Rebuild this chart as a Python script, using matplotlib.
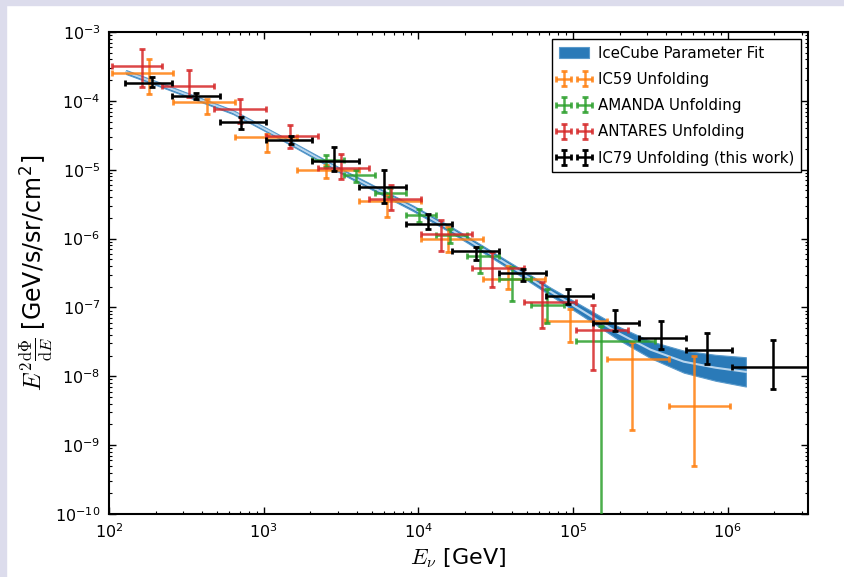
import matplotlib
matplotlib.use('Agg')
import matplotlib.pyplot as plt
import numpy as np
from matplotlib.patches import Rectangle
from matplotlib.ticker import NullFormatter

plt.rcParams['font.family'] = ['DejaVu Sans']
plt.rcParams['mathtext.fontset'] = 'cm'
plt.rcParams['mathtext.default'] = 'it'
plt.rcParams['axes.unicode_minus'] = False

# IceCube parameter fit band
fit_E = [129, 237, 635, 1280, 3470, 9280, 16110, 25180, 43750, 71450,
         116900, 194100, 317500, 518800, 835600, 1.309e6]
fit_F = [2.62e-4, 1.58e-4, 6.86e-5, 2.96e-5, 8.57e-6, 2.74e-6, 1.36e-6, 7.41e-7,
         3.43e-7, 1.70e-7, 8.69e-8, 4.30e-8, 2.43e-8, 1.63e-8, 1.33e-8, 1.16e-8]
fit_hi = [2.80e-4, 1.69e-4, 7.33e-5, 3.16e-5, 9.31e-6, 3.00e-6, 1.51e-6, 8.25e-7,
          3.86e-7, 1.94e-7, 1.03e-7, 5.35e-8, 3.23e-8, 2.36e-8, 2.05e-8, 1.89e-8]
fit_lo = [2.45e-4, 1.48e-4, 6.42e-5, 2.77e-5, 7.89e-6, 2.50e-6, 1.23e-6, 6.65e-7,
          3.05e-7, 1.49e-7, 7.35e-8, 3.45e-8, 1.83e-8, 1.13e-8, 8.6e-9, 7.1e-9]

# IC59 unfolding
ic59_E = [182, 429, 1050, 2530, 6270, 15490, 37840, 95300, 239300, 605000]
ic59_Elo = [104, 261, 656, 1648, 4140, 10400, 26120, 65610, 164800, 414000]
ic59_Ehi = [261, 656, 1648, 4140, 10400, 26120, 65610, 164800, 414000, 1.04e6]
ic59_F = [2.51e-4, 9.48e-5, 2.96e-5, 9.8e-6, 3.55e-6, 9.93e-7, 2.6e-7, 6.43e-8, 1.8e-8, 3.68e-9]
ic59_Fhi = [4.01e-4, 1.05e-4, 3.27e-5, 1.16e-5, 4.39e-6, 1.45e-6, 3.96e-7, 9.5e-8, 3.1e-8, 1.99e-8]
ic59_Flo = [1.24e-4, 6.4e-5, 1.81e-5, 7.67e-6, 2.05e-6, 6.34e-7, 1.86e-7, 3.1e-8, 1.66e-9, 4.98e-10]

# AMANDA unfolding (last lower bound runs off the bottom)
amanda_E = [2530, 3970, 6590, 10050, 15960, 25180, 40000, 68080, 150700]
amanda_Elo = [2051, 3289, 5272, 8356, 13090, 20650, 33110, 53090, 103700]
amanda_Ehi = [3289, 5272, 8356, 13090, 20650, 33110, 53090, 87100, 337300]
amanda_F = [1.37e-5, 8.28e-6, 4.65e-6, 2.22e-6, 1.11e-6, 5.55e-7, 2.6e-7, 1.09e-7, 3.29e-8]
amanda_Fhi = [1.66e-5, 9.8e-6, 5.36e-6, 2.72e-6, 1.39e-6, 7.67e-7, 3.84e-7, 1.86e-7, 5.31e-8]
amanda_Flo = [1.09e-5, 6.62e-6, 3.96e-6, 1.73e-6, 8.57e-7, 3.18e-7, 1.26e-7, 5.94e-8, 1e-12]

# ANTARES unfolding
antares_E = [164, 331, 705, 1469, 3140, 6680, 14030, 30130, 63240, 135200]
antares_Elo = [104, 221, 474, 1038, 2228, 4764, 10400, 22340, 47860, 104500]
antares_Ehi = [221, 474, 1038, 2228, 4764, 10400, 22340, 47860, 104500, 227500]
antares_F = [3.2e-4, 1.65e-4, 7.5e-5, 3.1e-5, 1.06e-5, 3.71e-6, 1.16e-6, 3.71e-7, 1.19e-7, 4.7e-8]
antares_Fhi = [5.66e-4, 2.8e-4, 1.08e-4, 4.39e-5, 1.67e-5, 5.93e-6, 1.83e-6, 6.34e-7, 2.32e-7, 1.09e-7]
antares_Flo = [1.57e-4, 1.12e-4, 4.69e-5, 2.05e-5, 7.41e-6, 2.62e-6, 6.49e-7, 1.96e-7, 4.97e-8, 1.24e-8]

# IC79 unfolding (this work)
ic79_E = [190, 366, 711, 1500, 2830, 5960, 11600, 23700, 47600, 93100,
          187000, 368000, 739000, 1.95e6]
ic79_Elo = [127, 256, 522, 1038, 2061, 4150, 8360, 16600, 33400, 66400,
            134000, 266000, 535000, 1.06e6]
ic79_Ehi = [256, 522, 1038, 2061, 4150, 8360, 16600, 33400, 66400, 134000,
            266000, 535000, 1.06e6, 3.44e6]
ic79_F = [1.81e-4, 1.17e-4, 4.94e-5, 2.74e-5, 1.34e-5, 5.6e-6, 1.64e-6, 6.56e-7,
          3.13e-7, 1.49e-7, 5.94e-8, 3.6e-8, 2.4e-8, 1.37e-8]
ic79_Fhi = [2.21e-4, 1.28e-4, 5.85e-5, 3.10e-5, 2.14e-5, 1.00e-5, 2.30e-6, 7.67e-7,
            3.63e-7, 1.86e-7, 9.2e-8, 6.43e-8, 4.26e-8, 3.37e-8]
ic79_Flo = [1.58e-4, 1.08e-4, 3.96e-5, 2.34e-5, 9.6e-6, 3.31e-6, 1.39e-6, 4.91e-7,
            2.38e-7, 1.12e-7, 4.59e-8, 2.49e-8, 1.53e-8, 6.5e-9]


def errs(c, lo, hi):
    c, lo, hi = np.array(c), np.array(lo), np.array(hi)
    return [c - lo, hi - c]


fig = plt.figure(figsize=(8.45, 5.77), dpi=100)
# lavender strips along top and left edge
fig.patches.append(Rectangle((0, 1 - 5 / 577), 1, 5 / 577, transform=fig.transFigure,
                             color='#dcdcec', zorder=0))
fig.patches.append(Rectangle((0, 0), 6 / 845, 1, transform=fig.transFigure,
                             color='#dcdcec', zorder=0))

ax = fig.add_axes([109 / 845, 1 - 514 / 577, (808 - 109) / 845, (514 - 32) / 577])

ax.fill_between(fit_E, fit_lo, fit_hi, color='#2a7ab8', lw=0.8, edgecolor='#5a9acb',
                zorder=1, label='IceCube Parameter Fit')
ax.plot(fit_E, fit_F, color='#b8d6ee', lw=1.5, zorder=2)

series = [
    (ic59_E, ic59_Elo, ic59_Ehi, ic59_F, ic59_Flo, ic59_Fhi, '#ff7f0e', 'IC59 Unfolding'),
    (amanda_E, amanda_Elo, amanda_Ehi, amanda_F, amanda_Flo, amanda_Fhi, '#2ca02c', 'AMANDA Unfolding'),
    (antares_E, antares_Elo, antares_Ehi, antares_F, antares_Flo, antares_Fhi, '#d62728', 'ANTARES Unfolding'),
    (ic79_E, ic79_Elo, ic79_Ehi, ic79_F, ic79_Flo, ic79_Fhi, 'black', 'IC79 Unfolding (this work)'),
]
for i, (E, Elo, Ehi, F, Flo, Fhi, col, lab) in enumerate(series):
    alpha = 1.0 if col == 'black' else 0.85
    ax.errorbar(E, F, xerr=errs(E, Elo, Ehi), yerr=errs(F, Flo, Fhi), fmt='none',
                ecolor=col, elinewidth=1.8, capsize=2, capthick=2, alpha=alpha,
                zorder=3 + i, label=lab)

ax.set_xscale('log')
ax.set_yscale('log')
ax.set_xlim(1e2, 3.3e6)
ax.set_ylim(1e-10, 1e-3)
ax.xaxis.set_minor_formatter(NullFormatter())
ax.yaxis.set_minor_formatter(NullFormatter())

ax.tick_params(which='both', direction='in', top=True, right=True, labelsize=11.5)
ax.tick_params(which='major', length=5, width=1, pad=6)
ax.tick_params(which='minor', length=2.5, width=0.8)
for s in ax.spines.values():
    s.set_linewidth(1.5)

ax.set_xlabel(r'$E_\nu$ [GeV]', fontsize=16, labelpad=4)
ax.set_ylabel(r'$E^2\frac{\mathrm{d}\Phi}{\mathrm{d}E}$ [GeV/s/sr/cm$^\mathregular{2}$]',
              fontsize=17, labelpad=0)

leg = ax.legend(loc='upper right', numpoints=2, fontsize=10.8, fancybox=False,
                framealpha=1, edgecolor='black', handlelength=2.0, borderpad=0.45,
                labelspacing=0.75, handletextpad=0.6, borderaxespad=0.45)
leg.get_frame().set_linewidth(1.0)

fig.savefig('out.png', dpi=100)
